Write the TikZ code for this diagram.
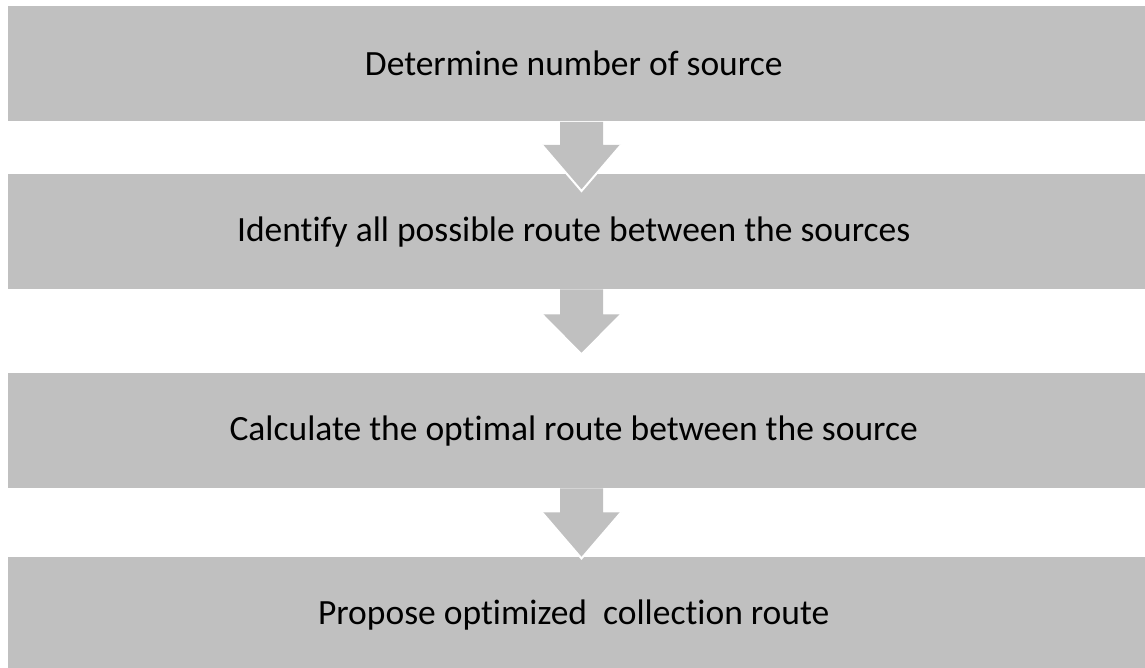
\documentclass[tikz,border=0pt]{standalone}
\usepackage{fontspec}
\setmainfont[Ligatures=NoCommon]{Carlito}
\usetikzlibrary{calc}
\definecolor{boxgray}{HTML}{C0C0C0}
\tikzset{
  stagebox/.style={fill=boxgray, draw=none, anchor=north west,
    minimum width=1140pt, minimum height=115pt, inner sep=0pt,
    font=\fontsize{35.5}{42}\selectfont, text=black},
  flowarrow/.style={fill=boxgray, draw=none},
  arrowrim/.style={draw=white, line width=2pt, line join=miter},
}
\newcommand{\blockarrow}[3]{%
  % #1 start point, #2 shaft length, #3 total length
  \fill[flowarrow] ($#1+(-21.5,0)$) -- ($#1+(-21.5,-#2)$) -- ($#1+(-39.5,-#2)$)
     -- ($#1+(0,-#3)$) -- ($#1+(39.5,-#2)$) -- ($#1+(21.5,-#2)$)
     -- ($#1+(21.5,0)$) -- cycle;
  \draw[arrowrim] ($#1+(-39.5,-#2)$) -- ($#1+(0,-#3)$) -- ($#1+(39.5,-#2)$);}
\begin{document}
\begin{tikzpicture}[x=1pt,y=1pt]
\useasboundingbox (0,0) rectangle (1145,668);
\fill[white] (0,0) rectangle (1145,668);

% stage boxes
\node[stagebox] (b4) at (8,111) {\hspace*{-9pt}Propose optimized\ \ collection route};
\node[stagebox] (b3) at (8,295) {\hspace*{-9pt}Calculate the optimal route between the source};
\node[stagebox] (b2) at (8,494) {\hspace*{-9pt}Identify all possible route between the sources};

% arrows between stages
\coordinate (a1) at ($(b2.north west)+(573.5,52)$);
\blockarrow{(a1)}{23}{69}
\coordinate (a2) at ($(b2.south west)+(573.5,0)$);
\blockarrow{(a2)}{25}{65}
\coordinate (a3) at ($(b3.south west)+(573.5,0)$);
\blockarrow{(a3)}{24}{70}

\node[stagebox] (b1) at (8,662) {\hspace*{-9pt}Determine number of source};
\end{tikzpicture}
\end{document}
